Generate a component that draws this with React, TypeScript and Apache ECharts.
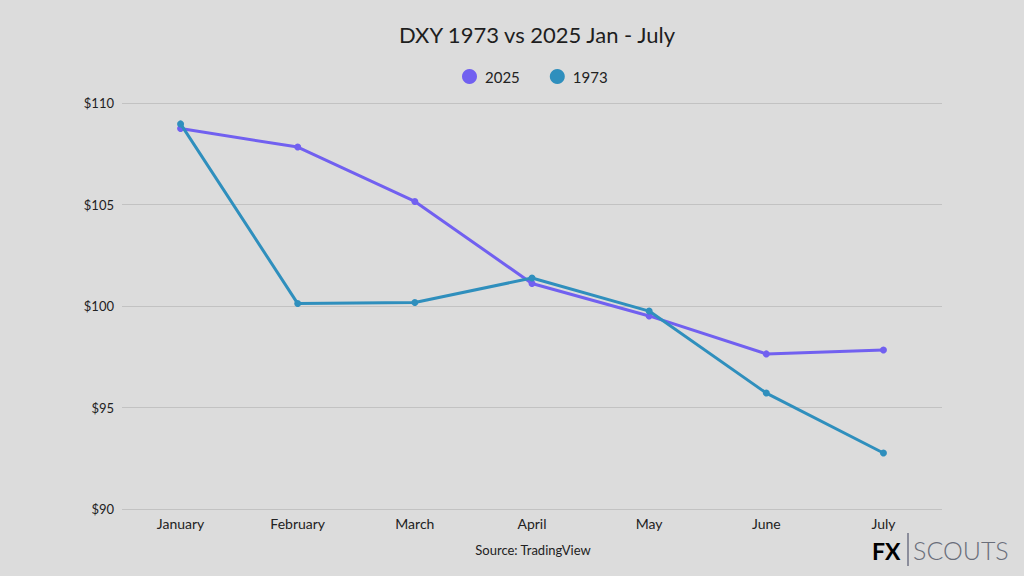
import React, { useEffect, useRef } from "react";
import * as echarts from "echarts";

const months = ["January", "February", "March", "April", "May", "June", "July"];
const values2025 = [108.74, 107.83, 105.15, 101.11, 99.51, 97.64, 97.83];
const values1973 = [108.97, 100.12, 100.17, 101.38, 99.75, 95.71, 92.76];
const yTicks = { min: 90, max: 110, interval: 5 };

const PURPLE = "#7160f0";
const TEAL = "#2f8fbd";
const FONT = "Lato, 'Open Sans', sans-serif";

export default function App() {
  const ref = useRef<HTMLDivElement>(null);
  useEffect(() => {
    if (!ref.current) return;
    const chart = echarts.init(ref.current, null, { renderer: "svg" });
    chart.setOption({
      animation: false,
      backgroundColor: "#dcdcdc",
      textStyle: { fontFamily: FONT },
      title: {
        text: "DXY 1973 vs 2025 Jan - July",
        left: 532,
        textAlign: "center",
        top: 18,
        textStyle: { fontSize: 22, fontWeight: "normal", color: "#1e1e1e", fontFamily: FONT },
      },
      legend: {
        top: 64,
        left: 457,
        itemGap: 30,
        itemWidth: 15,
        itemHeight: 15,
        icon: "circle",
        textStyle: { fontSize: 15, color: "#222", fontFamily: FONT, padding: [0, 0, 0, 3] },
        data: ["2025", "1973"],
      },
      grid: { left: 122, right: 82, top: 103, bottom: 67 },
      xAxis: {
        type: "category",
        data: months,
        boundaryGap: true,
        axisLine: { show: false },
        axisTick: { show: false },
        axisLabel: { color: "#222", fontSize: 14, margin: 7, fontFamily: FONT },
      },
      yAxis: {
        type: "value",
        min: yTicks.min,
        max: yTicks.max,
        interval: yTicks.interval,
        axisLine: { show: false },
        axisTick: { show: false },
        splitLine: { lineStyle: { color: "#c2c2c2", width: 1 } },
        axisLabel: {
          color: "#222",
          fontSize: 13,
          margin: 8,
          fontFamily: FONT,
          formatter: (v: number) => "$" + v,
        },
      },
      series: [
        {
          name: "2025",
          type: "line",
          data: values2025,
          color: PURPLE,
          symbol: "circle",
          symbolSize: 7,
          lineStyle: { width: 3, color: PURPLE },
          itemStyle: { color: PURPLE },
          z: 2,
        },
        {
          name: "1973",
          type: "line",
          data: values1973,
          color: TEAL,
          symbol: "circle",
          symbolSize: 7,
          lineStyle: { width: 3, color: TEAL },
          itemStyle: { color: TEAL },
          z: 3,
        },
      ],
      graphic: [
        {
          type: "text",
          x: 533,
          y: 543,
          style: { text: "Source: TradingView", fontSize: 13, fill: "#222", fontFamily: FONT, textAlign: "center" },
        },
        {
          type: "text",
          x: 872,
          y: 539,
          style: {
            text: "FX",
            fontSize: 23,
            fontWeight: "bold",
            fontFamily: FONT,
            fill: new echarts.graphic.LinearGradient(0, 0, 1, 1, [
              { offset: 0, color: "#26305e" },
              { offset: 0.6, color: "#5a4fd8" },
              { offset: 1, color: "#3fc8d8" },
            ]),
          },
        },
        {
          type: "line",
          shape: { x1: 908, y1: 533, x2: 908, y2: 566 },
          style: { stroke: "#3a3f5a", lineWidth: 1 },
        },
        {
          type: "text",
          x: 913,
          y: 537,
          style: { text: "SCOUTS", fontSize: 25, fontFamily: FONT, fill: "#6a6e7a", fontWeight: 300 },
        },
      ],
    });
    return () => chart.dispose();
  }, []);
  return <div ref={ref} style={{ width: 1024, height: 576, position: "absolute", left: 0, top: 0 }} />;
}
